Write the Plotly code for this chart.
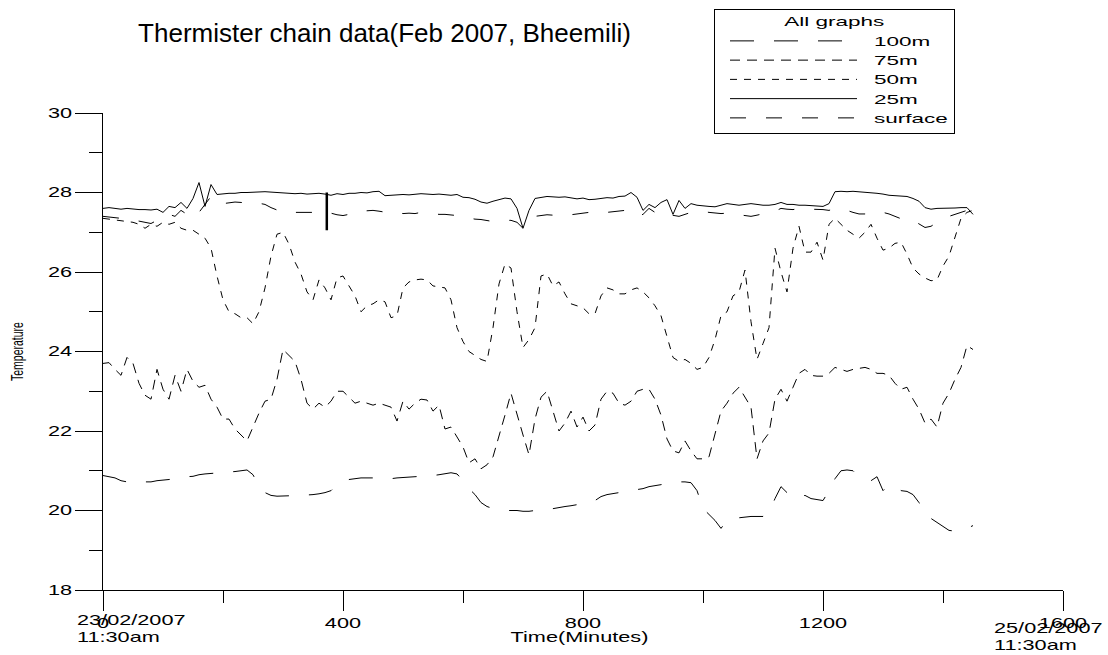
import plotly.graph_objects as go

# Sampling times (minutes after 23/02/2007 11:30am), one reading every 10 minutes
minutes = list(range(0, 1451, 10))

temp_100m = [
    20.88, 20.85, 20.82, 20.75, 20.72, 20.72, 20.70, 20.72, 20.72, 20.75,
    20.76, 20.78, 20.80, 20.83, 20.85, 20.86, 20.90, 20.92, 20.93, 20.95,
    20.96, 20.97, 20.98, 21.00, 21.02, 20.90, 20.60, 20.45, 20.38, 20.36,
    20.37, 20.37, 20.37, 20.38, 20.38, 20.40, 20.42, 20.45, 20.50, 20.65,
    20.72, 20.78, 20.80, 20.82, 20.82, 20.82, 20.80, 20.80, 20.80, 20.82,
    20.83, 20.84, 20.85, 20.86, 20.86, 20.88, 20.90, 20.93, 20.95, 20.92,
    20.75, 20.55, 20.40, 20.20, 20.10, 20.05, 20.02, 20.00, 20.00, 20.00,
    19.98, 19.98, 20.00, 20.00, 20.02, 20.05, 20.07, 20.10, 20.12, 20.15,
    20.18, 20.20, 20.25, 20.35, 20.40, 20.42, 20.45, 20.48, 20.50, 20.52,
    20.55, 20.60, 20.62, 20.65, 20.68, 20.70, 20.72, 20.72, 20.70, 20.50,
    20.05, 19.90, 19.75, 19.55, 19.75, 19.80, 19.82, 19.83, 19.85, 19.85,
    19.85, 19.95, 20.30, 20.60, 20.45, 20.30, 20.35, 20.38, 20.30, 20.28,
    20.25, 20.50, 20.80, 21.00, 21.02, 21.00, 20.85, 20.80, 20.75, 20.85,
    20.50, 20.65, 20.60, 20.50, 20.48, 20.40, 20.20, 19.90, 19.80, 19.70,
    19.60, 19.50, 19.48, 19.50, 19.55, 19.62,
]

temp_75m = [
    23.70, 23.72, 23.55, 23.40, 23.85, 23.70, 23.20, 22.90, 22.80, 23.55,
    23.05, 22.80, 23.40, 23.00, 23.55, 23.25, 23.10, 23.15, 22.80, 22.60,
    22.30, 22.30, 22.05, 21.90, 21.75, 22.10, 22.45, 22.75, 22.80, 23.30,
    24.05, 23.90, 23.75, 23.30, 22.70, 22.55, 22.70, 22.60, 22.75, 23.00,
    23.00, 22.85, 22.70, 22.75, 22.70, 22.65, 22.70, 22.65, 22.60, 22.25,
    22.75, 22.55, 22.70, 22.80, 22.78, 22.50, 22.65, 22.05, 22.10, 21.85,
    21.60, 21.20, 21.30, 21.05, 21.15, 21.35, 21.85, 22.40, 22.95, 22.40,
    21.90, 21.40, 22.30, 22.85, 23.00, 22.50, 22.00, 22.20, 22.50, 22.10,
    22.35, 22.00, 22.15, 22.80, 23.00, 22.95, 22.70, 22.65, 22.75, 23.00,
    23.05, 23.05, 22.80, 22.40, 21.80, 21.50, 21.45, 21.75, 21.50, 21.30,
    21.30, 21.35, 21.90, 22.50, 22.70, 22.95, 23.10, 22.85, 22.60, 21.30,
    21.75, 21.95, 22.80, 23.05, 22.75, 23.10, 23.45, 23.55, 23.40, 23.38,
    23.38, 23.45, 23.60, 23.55, 23.50, 23.55, 23.58, 23.60, 23.55, 23.45,
    23.45, 23.40, 23.20, 23.05, 23.10, 22.80, 22.55, 22.20, 22.30, 22.10,
    22.70, 22.95, 23.30, 23.60, 24.15, 24.05,
]

temp_50m = [
    27.35, 27.33, 27.30, 27.28, 27.27, 27.25, 27.20, 27.10, 27.20, 27.15,
    27.25, 27.20, 27.25, 27.10, 27.05, 27.05, 26.95, 26.85, 26.60, 25.90,
    25.30, 25.00, 24.95, 24.85, 24.85, 24.70, 25.00, 25.60, 26.40, 26.95,
    27.00, 26.70, 26.25, 25.95, 25.50, 25.30, 25.80, 25.60, 25.30, 25.85,
    25.90, 25.65, 25.40, 25.00, 25.15, 25.20, 25.30, 25.25, 24.85, 24.90,
    25.60, 25.75, 25.80, 25.82, 25.80, 25.65, 25.62, 25.60, 25.30, 24.60,
    24.25, 24.00, 23.90, 23.80, 23.75, 24.60, 25.70, 26.20, 26.10, 25.00,
    24.10, 24.30, 24.60, 25.90, 25.95, 25.65, 25.75, 25.45, 25.20, 25.15,
    25.10, 24.95, 24.95, 25.40, 25.60, 25.55, 25.45, 25.45, 25.55, 25.60,
    25.50, 25.35, 25.15, 24.90, 24.40, 23.85, 23.75, 23.80, 23.70, 23.55,
    23.60, 23.85, 24.30, 24.90, 25.00, 25.40, 25.50, 26.05, 24.75, 23.80,
    24.20, 24.60, 26.60, 26.00, 25.50, 26.60, 27.15, 26.50, 26.50, 26.75,
    26.30, 27.20, 27.35, 27.20, 27.05, 26.95, 26.85, 27.00, 27.20, 26.85,
    26.55, 26.60, 26.72, 26.75, 26.45, 26.10, 25.95, 25.85, 25.78, 25.80,
    26.15, 26.40, 26.85, 27.35, 27.50, 27.55,
]

temp_25m = [
    27.60, 27.62, 27.60, 27.58, 27.60, 27.58, 27.57, 27.57, 27.56, 27.58,
    27.50, 27.65, 27.62, 27.75, 27.60, 27.85, 28.25, 27.65, 28.20, 27.95,
    27.97, 27.98, 27.98, 28.00, 28.00, 28.01, 28.02, 28.02, 28.01, 28.00,
    27.99, 27.97, 27.97, 27.98, 27.96, 27.97, 27.98, 27.96, 27.93, 27.97,
    27.95, 27.98, 27.98, 28.00, 27.99, 28.02, 28.03, 27.92, 27.93, 27.94,
    27.95, 27.94, 27.96, 27.97, 27.96, 27.95, 27.96, 27.95, 27.93, 27.95,
    27.88, 27.87, 27.83, 27.76, 27.73, 27.78, 27.82, 27.86, 27.84, 27.60,
    27.10, 27.55, 27.85, 27.88, 27.90, 27.89, 27.88, 27.89, 27.86, 27.84,
    27.86, 27.82, 27.83, 27.85, 27.87, 27.86, 27.90, 27.91, 28.00, 27.88,
    27.55, 27.70, 27.62, 27.75, 27.82, 27.45, 27.80, 27.60, 27.72, 27.68,
    27.66, 27.65, 27.64, 27.68, 27.72, 27.70, 27.68, 27.70, 27.72, 27.70,
    27.68, 27.68, 27.70, 27.75, 27.70, 27.70, 27.68, 27.68, 27.67, 27.66,
    27.65, 27.72, 28.02, 28.03, 28.02, 28.03, 28.02, 28.00, 27.99, 27.98,
    27.96, 27.93, 27.92, 27.91, 27.90, 27.85, 27.78, 27.62, 27.58, 27.60,
    27.60, 27.60, 27.61, 27.62, 27.62, 27.45,
]

temp_surface = [
    27.40, 27.38, 27.36, 27.35, 27.34, 27.30, 27.28, 27.25, 27.22, 27.30,
    27.35, 27.45, 27.40, 27.55, 27.45, 27.60, 27.50, 27.70, 27.90, 27.75,
    27.72, 27.74, 27.76, 27.75, 27.74, 27.72, 27.73, 27.70, 27.62, 27.55,
    27.50, 27.50, 27.50, 27.50, 27.49, 27.50, 27.48, 27.45, 27.48, 27.44,
    27.42, 27.45, 27.52, 27.53, 27.55, 27.55, 27.53, 27.50, 27.48, 27.50,
    27.47, 27.48, 27.47, 27.50, 27.48, 27.46, 27.45, 27.45, 27.44, 27.42,
    27.38, 27.35, 27.33, 27.32, 27.30, 27.27, 27.28, 27.30, 27.30, 27.25,
    27.10, 27.35, 27.40, 27.42, 27.44, 27.43, 27.44, 27.45, 27.44, 27.46,
    27.48, 27.50, 27.50, 27.48, 27.50, 27.52, 27.53, 27.55, 27.52, 27.40,
    27.45, 27.60, 27.50, 27.55, 27.45, 27.42, 27.40, 27.45, 27.50, 27.50,
    27.52, 27.50, 27.48, 27.47, 27.48, 27.46, 27.45, 27.42, 27.40, 27.43,
    27.47, 27.50, 27.53, 27.60, 27.58, 27.57, 27.60, 27.60, 27.58, 27.58,
    27.57, 27.55, 27.60, 27.58, 27.55, 27.50, 27.46, 27.46, 27.47, 27.45,
    27.50, 27.46, 27.40, 27.33, 27.28, 27.30, 27.20, 27.12, 27.15, 27.25,
    27.32, 27.40, 27.45, 27.50, 27.55, 27.55,
]

# Short sharp excursion recorded by the surface sensor
spike_minutes = [373, 373]
spike_temp = [28.00, 27.05]

series_names = ["100m", "75m", "50m", "25m", "surface"]
series_values = [temp_100m, temp_75m, temp_50m, temp_25m, temp_surface]
series_dash = ["24px,20px", "10px,7px", "7px,7px", "solid", "16px,20px"]

FONT = "Liberation Sans, Arial, sans-serif"

fig = go.Figure()
for name, vals, dash in zip(series_names, series_values, series_dash):
    assert len(vals) == len(minutes)
    fig.add_trace(go.Scatter(
        x=minutes, y=vals, mode="lines", name=name,
        line=dict(color="black", width=1, dash=dash),
        hoverinfo="skip",
    ))
fig.add_trace(go.Scatter(
    x=spike_minutes, y=spike_temp, mode="lines", showlegend=False,
    line=dict(color="black", width=2.5), hoverinfo="skip",
))

W, H = 1108, 655
L, R, T, B = 103, 45, 113, 65
PW, PH = W - L - R, H - T - B


def px_x(p):
    return (p - L) / PW


def px_y(p):
    return (H - B - p) / PH


annotations = [
    dict(text="23/02/2007", x=px_x(75), y=px_y(620), align="left", xanchor="left"),
    dict(text="11:30am", x=px_x(75), y=px_y(637), align="left", xanchor="left"),
    dict(text="25/02/2007", x=px_x(992), y=px_y(628), align="left", xanchor="left"),
    dict(text="11:30am", x=px_x(992), y=px_y(645), align="left", xanchor="left"),
    dict(text="Time(Minutes)", x=px_x(579), y=px_y(637), align="center", xanchor="center"),
    dict(text="Temperature", x=px_x(17), y=px_y(352), textangle=-90,
         xanchor="center", font=dict(size=10.5)),
]
for a in annotations:
    a.update(xref="paper", yref="paper", yanchor="middle", showarrow=False)
    a.setdefault("font", dict(size=14))

axis_common = dict(
    showgrid=False, zeroline=False, showline=True, linecolor="black", linewidth=1,
    ticks="outside", tickcolor="black", tickwidth=1, tickfont=dict(size=14),
)

fig.update_layout(
    width=W, height=H,
    margin=dict(l=L, r=R, t=T, b=B, pad=0, autoexpand=False),
    paper_bgcolor="white", plot_bgcolor="white",
    font=dict(family=FONT, size=14, color="black"),
    title=dict(
        text="Thermister chain data(Feb 2007, Bheemili)",
        x=384.5 / W, xref="container", xanchor="center",
        y=1 - 33 / H, yref="container", yanchor="middle",
        font=dict(size=26),
    ),
    showlegend=True,
    legend=dict(
        x=px_x(724), y=px_y(9), xanchor="left", yanchor="top",
        bordercolor="black", borderwidth=1, bgcolor="white",
        itemwidth=127, tracegroupgap=0, traceorder="normal",
        title=dict(text="All graphs", side="top center", font=dict(size=12.5)),
        font=dict(size=12.5),
    ),
    xaxis=dict(
        range=[0, 1600], tickmode="linear", tick0=0, dtick=400, ticklen=20,
        minor=dict(ticks="outside", tickmode="linear", tick0=0, dtick=200,
                   ticklen=12, tickcolor="black", tickwidth=1, showgrid=False),
        **axis_common,
    ),
    yaxis=dict(
        range=[18, 30], tickmode="linear", tick0=18, dtick=2, ticklen=27,
        minor=dict(ticks="outside", tickmode="linear", tick0=18, dtick=1,
                   ticklen=13, tickcolor="black", tickwidth=1, showgrid=False),
        **axis_common,
    ),
    annotations=annotations,
)

# Widen the axis, legend and annotation lettering horizontally
post_js = """
var gd = document.getElementById('{plot_id}');
var S = 1.55, SL = 1.8, GAP = 12, LEFT = 10;
function widen(el, anchor, s) {
  var bb = el.getBBox();
  var ax = anchor === 'end' ? bb.x + bb.width : (anchor === 'middle' ? bb.x + bb.width / 2 : bb.x);
  var tr = el.getAttribute('transform') || '';
  el.setAttribute('transform', tr + ' translate(' + ax + ',0) scale(' + s + ',1) translate(' + (-ax) + ',0)');
  return bb.width * (s - 1);
}
gd.querySelectorAll('.xtick text, .ytick text').forEach(function (t) {
  widen(t, t.getAttribute('text-anchor') || 'middle', S);
});
gd.querySelectorAll('g.annotation').forEach(function (g) {
  var t = g.querySelector('text');
  if (!t) return;
  if (t.textContent === 'Temperature') { widen(g, 'middle', S); }
  else { widen(t, t.getAttribute('text-anchor') || 'middle', S); }
});
var extra = 0;
gd.querySelectorAll('.legendtext').forEach(function (t) {
  extra = Math.max(extra, widen(t, 'start', SL));
  t.setAttribute('transform', 'translate(' + GAP + ',0) ' + (t.getAttribute('transform') || ''));
});
extra += GAP;
var lt = gd.querySelector('.legendtitletext');
if (lt) {
  widen(lt, 'middle', SL);
  lt.setAttribute('transform', 'translate(' + ((extra - LEFT) / 2) + ',0) ' + (lt.getAttribute('transform') || ''));
}
var bg = gd.querySelector('.legend rect.bg');
if (bg) {
  bg.setAttribute('x', parseFloat(bg.getAttribute('x') || 0) - LEFT);
  bg.setAttribute('width', parseFloat(bg.getAttribute('width')) + extra + LEFT);
}
document.querySelectorAll('clipPath[id^="legend"] rect').forEach(function (r) {
  r.setAttribute('width', parseFloat(r.getAttribute('width')) + extra);
});
"""

fig.write_html("out.html", config={"responsive": False, "displayModeBar": False},
               post_script=post_js)
